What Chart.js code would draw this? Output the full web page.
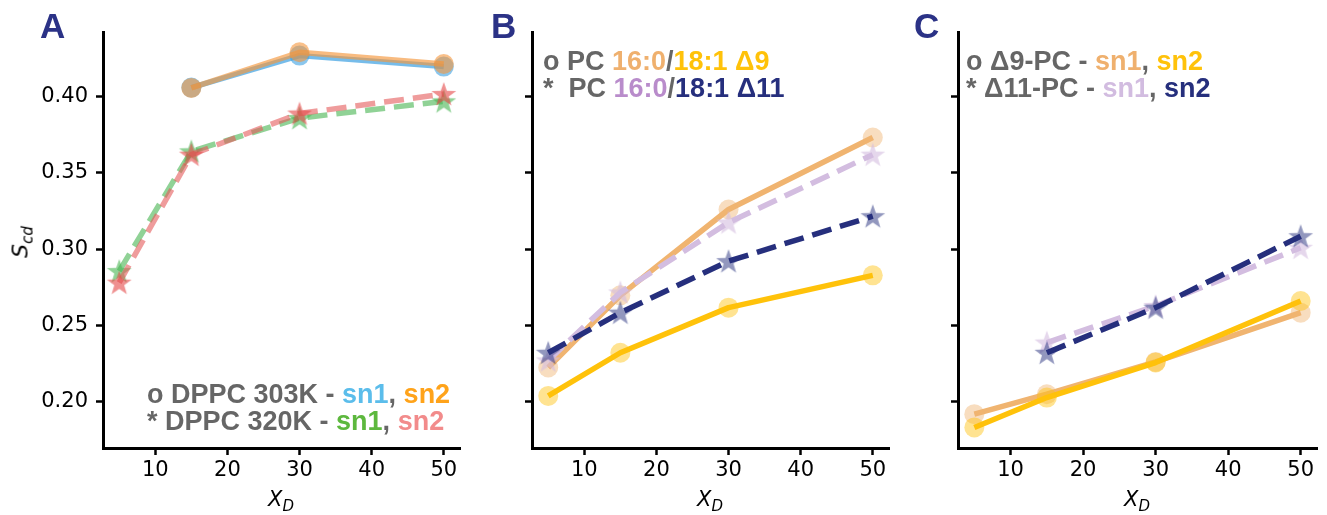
<!DOCTYPE html>
<html>
<head>
<meta charset="utf-8">
<script src="https://cdn.jsdelivr.net/npm/chart.js@4.4.1/dist/chart.umd.min.js"></script>
<style>
  body { margin: 0; background: #fff; }
  #wrap { position: relative; width: 1327px; height: 515px; background: #fff; overflow: hidden; }
  canvas { position: absolute; top: 0; }
  .letter { position: absolute; font: bold 35px 'Liberation Sans', Arial, sans-serif; line-height: 35px; color: #2b3286; }
  .leg { position: absolute; font: bold 27px 'Liberation Sans', Arial, sans-serif; line-height: 27px; color: #666; white-space: pre; }
  .xlab { position: absolute; font: italic 21px 'DejaVu Sans', sans-serif; color: #000; transform: translateX(-50%); white-space: nowrap; }
  .ylab { position: absolute; font: italic 22px 'DejaVu Sans', sans-serif; color: #000; transform: translate(-50%, -50%) rotate(-90deg); white-space: nowrap; }
  sub { font-size: 15px; vertical-align: -5px; line-height: 0; }
</style>
</head>
<body>
<div id="wrap">
  <canvas id="chartA" width="470" height="515" style="left:0px"></canvas>
  <canvas id="chartB" width="430" height="515" style="left:470px"></canvas>
  <canvas id="chartC" width="427" height="515" style="left:900px"></canvas>

  <div class="letter" style="left:40px;top:8px">A</div>
  <div class="letter" style="left:491px;top:8px">B</div>
  <div class="letter" style="left:914px;top:8px">C</div>

  <div class="ylab" style="left:20px;top:242px">S<sub>cd</sub></div>
  <div class="xlab" style="left:281px;top:487px">X<sub>D</sub></div>
  <div class="xlab" style="left:710px;top:487px">X<sub>D</sub></div>
  <div class="xlab" style="left:1137px;top:487px">X<sub>D</sub></div>

  <div class="leg" style="left:147px;top:381px">o DPPC 303K - <span style="color:#5bbdeb">sn1</span>, <span style="color:#ffa31a">sn2</span>
* DPPC 320K - <span style="color:#5db83e">sn1</span>, <span style="color:#f28b8b">sn2</span></div>
  <div class="leg" style="left:543px;top:48px">o PC <span style="color:#efb06e">16:0</span>/<span style="color:#ffc20a">18:1 Δ9</span>
*  PC <span style="color:#b98ccb">16:0</span>/<span style="color:#262f7d">18:1 Δ11</span></div>
  <div class="leg" style="left:966px;top:48px">o Δ9-PC - <span style="color:#efb06e">sn1</span>, <span style="color:#ffc20a">sn2</span>
* Δ11-PC - <span style="color:#d2bce0">sn1</span>, <span style="color:#262f7d">sn2</span></div>
</div>

<script>
// ---- data ----
const xD = [5, 15, 30, 50];
const xTicks = [10, 20, 30, 40, 50];
const yTicks = [0.20, 0.25, 0.30, 0.35, 0.40];

// A: DPPC
const dppc303Sn1 = [null, 0.4060, 0.4270, 0.4198];
const dppc303Sn2 = [null, 0.4058, 0.4292, 0.4215];
const dppc320Sn1 = [0.2856, 0.3642, 0.3860, 0.3970];
const dppc320Sn2 = [0.2780, 0.3620, 0.3890, 0.4018];

// B: PC 16:0/18:1 d9 vs d11
const pcD9Sn1 = [0.2223, 0.2697, 0.3260, 0.3733];
const pcD9Sn2 = [0.2037, 0.2320, 0.2616, 0.2828];
const pcD11Sn1 = [0.2270, 0.2716, 0.3175, 0.3620];
const pcD11Sn2 = [0.2320, 0.2583, 0.2921, 0.3216];

// C: d9-PC vs d11-PC
const d9Sn1 = [0.1917, 0.2048, 0.2260, 0.2583];
const d9Sn2 = [0.1830, 0.2026, 0.2256, 0.2660];
const d11Sn1 = [null, 0.2387, 0.2627, 0.3009];
const d11Sn2 = [null, 0.2320, 0.2616, 0.3085];

// ---- helpers ----
function points(vals) {
  const out = [];
  xD.forEach((x, i) => {
    if (vals[i] !== null) out.push({ x: x, y: vals[i] });
  });
  return out;
}

function starImage(color, r) {
  const c = document.createElement('canvas');
  const size = Math.ceil(r * 2) + 2;
  c.width = size;
  c.height = size;
  const g = c.getContext('2d');
  g.fillStyle = color;
  g.beginPath();
  for (let i = 0; i < 10; i++) {
    const rad = i % 2 ? r * 0.4 : r;
    const a = -Math.PI / 2 + i * Math.PI / 5;
    g.lineTo(size / 2 + rad * Math.cos(a), size / 2 + 1 + rad * Math.sin(a));
  }
  g.closePath();
  g.fill();
  return c;
}

function circleSet(vals, line, marker, order) {
  return {
    data: points(vals),
    borderColor: line,
    borderWidth: 5.5,
    borderJoinStyle: 'round',
    pointStyle: 'circle',
    pointRadius: 10,
    pointBackgroundColor: marker,
    pointBorderWidth: 0,
    order: order,
    clip: false
  };
}

function starSet(vals, line, marker, order) {
  return {
    data: points(vals),
    borderColor: line,
    borderWidth: 5.5,
    borderDash: [20, 9],
    borderJoinStyle: 'round',
    pointStyle: starImage(marker, 13),
    pointBorderWidth: 0,
    order: order,
    clip: false
  };
}

function makeChart(id, datasets, showY, yWidth, padRight) {
  const tickGrid = {
    drawOnChartArea: false,
    drawTicks: true,
    tickLength: 7,
    tickWidth: 2.5,
    tickColor: '#000'
  };
  return new Chart(document.getElementById(id), {
    type: 'line',
    data: { datasets: datasets },
    options: {
      responsive: false,
      animation: false,
      layout: { padding: { top: 32, right: padRight, left: 0, bottom: 0 } },
      plugins: { legend: { display: false }, tooltip: { enabled: false } },
      scales: {
        x: {
          type: 'linear',
          min: 2.75,
          max: 52.25,
          afterBuildTicks: s => { s.ticks = xTicks.map(v => ({ value: v })); },
          afterFit: s => { s.height = 67; },
          grid: tickGrid,
          border: { display: true, color: '#000', width: 3 },
          ticks: {
            color: '#000',
            font: { family: 'DejaVu Sans', size: 21 },
            padding: 3,
            maxRotation: 0,
            autoSkip: false,
            callback: v => String(v)
          }
        },
        y: {
          type: 'linear',
          min: 0.1695,
          max: 0.4425,
          afterBuildTicks: s => { s.ticks = yTicks.map(v => ({ value: v })); },
          afterFit: s => { s.width = yWidth; },
          grid: tickGrid,
          border: { display: true, color: '#000', width: 3 },
          ticks: {
            color: '#000',
            font: { family: 'DejaVu Sans', size: 21 },
            padding: 8,
            autoSkip: false,
            callback: v => showY ? v.toFixed(2) : ''
          }
        }
      }
    }
  });
}

// ---- panels ----
makeChart('chartA', [
  circleSet(dppc303Sn2, 'rgba(245,150,60,0.65)', 'rgba(245,150,60,0.6)', 1),
  circleSet(dppc303Sn1, 'rgba(60,160,225,0.7)', 'rgba(60,160,225,0.6)', 2),
  starSet(dppc320Sn2, 'rgba(228,90,90,0.6)', 'rgba(228,70,70,0.6)', 3),
  starSet(dppc320Sn1, 'rgba(70,180,80,0.6)', 'rgba(70,180,80,0.6)', 4)
], true, 103, 10);

makeChart('chartB', [
  starSet(pcD11Sn2, '#262f7d', 'rgba(38,47,125,0.5)', 1),
  starSet(pcD11Sn1, '#d3bde0', 'rgba(211,189,224,0.6)', 2),
  circleSet(pcD9Sn2, '#ffc20a', 'rgba(255,194,10,0.45)', 3),
  circleSet(pcD9Sn1, '#f0b470', 'rgba(240,180,112,0.45)', 4)
], false, 62, 11);

makeChart('chartC', [
  starSet(d11Sn2, '#262f7d', 'rgba(38,47,125,0.5)', 1),
  starSet(d11Sn1, '#d3bde0', 'rgba(211,189,224,0.6)', 2),
  circleSet(d9Sn2, '#ffc20a', 'rgba(255,194,10,0.45)', 3),
  circleSet(d9Sn1, '#f0b470', 'rgba(240,180,112,0.45)', 4)
], false, 58, 10);
</script>
</body>
</html>
